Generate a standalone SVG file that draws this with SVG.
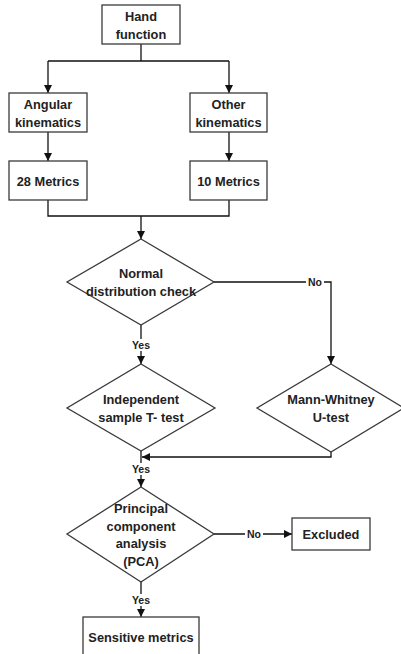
<svg xmlns="http://www.w3.org/2000/svg" width="401" height="654" viewBox="0 0 401 654">
<style>
.box{fill:#fff;stroke:#3a3a3a;stroke-width:1.3}
.ln{fill:none;stroke:#111;stroke-width:1.3}
.t{font-family:"Liberation Sans",Arial,sans-serif;font-weight:bold;font-size:12.8px;fill:#222;text-anchor:middle;dominant-baseline:central}
.lb{font-family:"Liberation Sans",Arial,sans-serif;font-weight:bold;font-size:10.5px;fill:#222;text-anchor:middle;dominant-baseline:central}
.lbbg{fill:#fff}
</style>
<defs>
<marker id="ah" markerWidth="8" markerHeight="8" refX="8" refY="4" orient="auto" markerUnits="userSpaceOnUse">
<path d="M0,0 L8,4 L0,8 Z" fill="#111"/>
</marker>
</defs>
<rect width="401" height="654" fill="#fff"/>
<g id="connectors">
<path class="ln" d="M141,44 V61 M48,61 H229"/>
<path class="ln" d="M48,61 V93" marker-end="url(#ah)"/>
<path class="ln" d="M229,61 V93" marker-end="url(#ah)"/>
<path class="ln" d="M48,132 V161" marker-end="url(#ah)"/>
<path class="ln" d="M229,132 V161" marker-end="url(#ah)"/>
<path class="ln" d="M48,200 V216 H229 V200 M141,216"/>
<path class="ln" d="M141,216 V239" marker-end="url(#ah)"/>
<path class="ln" d="M214,282 H331 V364" marker-end="url(#ah)"/>
<path class="ln" d="M141,325 V364" marker-end="url(#ah)"/>
<path class="ln" d="M141,451 V487" marker-end="url(#ah)"/>
<path class="ln" d="M331,452 V457 H142" marker-end="url(#ah)"/>
<path class="ln" d="M214,534 H292" marker-end="url(#ah)"/>
<path class="ln" d="M141,582 V617" marker-end="url(#ah)"/>
<rect class="lbbg" x="306" y="276" width="18" height="12"/>
<text class="lb" x="315" y="282">No</text>
<rect class="lbbg" x="131" y="339" width="20" height="12"/>
<text class="lb" x="141" y="345">Yes</text>
<rect class="lbbg" x="131" y="463" width="20" height="12"/>
<text class="lb" x="141" y="469">Yes</text>
<rect class="lbbg" x="245" y="528" width="18" height="12"/>
<text class="lb" x="254" y="534">No</text>
<rect class="lbbg" x="131" y="594" width="20" height="12"/>
<text class="lb" x="141" y="600">Yes</text>
</g>
<g id="hand">
<rect class="box" x="102" y="5" width="78" height="39"/>
<text class="t" x="141" y="16">Hand</text>
<text class="t" x="141" y="34">function</text>
</g>
<g id="angular">
<rect class="box" x="9" y="93" width="78" height="39"/>
<text class="t" x="48" y="104">Angular</text>
<text class="t" x="48" y="122">kinematics</text>
</g>
<g id="other">
<rect class="box" x="190" y="93" width="77" height="39"/>
<text class="t" x="228.5" y="104">Other</text>
<text class="t" x="228.5" y="122">kinematics</text>
</g>
<g id="m28">
<rect class="box" x="9" y="161" width="78" height="39"/>
<text class="t" x="48" y="181">28 Metrics</text>
</g>
<g id="m10">
<rect class="box" x="190" y="161" width="77" height="39"/>
<text class="t" x="228.5" y="181">10 Metrics</text>
</g>
<g id="normal">
<polygon class="box" points="141,239 214,282 141,325 67,282"/>
<text class="t" x="141" y="273">Normal</text>
<text class="t" x="141" y="291">distribution check</text>
</g>
<g id="ttest">
<polygon class="box" points="141,364 215,408 141,451 67,408"/>
<text class="t" x="141" y="399">Independent</text>
<text class="t" x="141" y="417">sample T- test</text>
</g>
<g id="mann">
<polygon class="box" points="331,364 404,408 331,452 257,408"/>
<text class="t" x="331" y="399">Mann-Whitney</text>
<text class="t" x="331" y="417">U-test</text>
</g>
<g id="pca">
<polygon class="box" points="141,487 214,534 141,582 67,534"/>
<text class="t" x="141" y="508">Principal</text>
<text class="t" x="141" y="526">component</text>
<text class="t" x="141" y="543">analysis</text>
<text class="t" x="141" y="561">(PCA)</text>
</g>
<g id="excluded">
<rect class="box" x="292" y="518" width="78" height="32"/>
<text class="t" x="331" y="534">Excluded</text>
</g>
<g id="sensitive">
<rect class="box" x="83" y="617" width="116" height="45"/>
<text class="t" x="141" y="637">Sensitive metrics</text>
</g>
</svg>
